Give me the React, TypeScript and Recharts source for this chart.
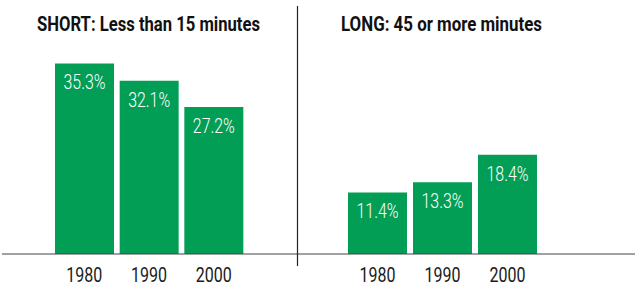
import { BarChart, Bar, XAxis, YAxis, LabelList } from 'recharts'

const years = ['1980', '1990', '2000']
const shortCommute = [35.3, 32.1, 27.2]
const longCommute = [11.4, 13.3, 18.4]
const titles = ['SHORT: Less than 15 minutes', 'LONG: 45 or more minutes']

const GREEN = '#029e56'
const FONT = "Roboto, 'Liberation Sans', sans-serif"

// condensed look: no narrow font installed, so squeeze glyphs to the measured widths
function YearTick(props: any) {
  const { x, y, payload } = props
  return (
    <text
      x={x}
      y={y + 15}
      textAnchor="middle"
      textLength={36}
      lengthAdjust="spacingAndGlyphs"
      fontFamily={FONT}
      fontSize={21}
      fill="#1a1a1a"
    >
      {payload.value}
    </text>
  )
}

function ValueLabel(props: any) {
  const { x, y, width, value } = props
  return (
    <text
      x={x + width / 2}
      y={y + 26}
      textAnchor="middle"
      textLength={42}
      lengthAdjust="spacingAndGlyphs"
      fontFamily={FONT}
      fontWeight={300}
      fontSize={21}
      fill="#fff"
    >
      {`${Number(value).toFixed(1)}%`}
    </text>
  )
}

interface PanelProps {
  values: number[]
  left: number
  width: number
  marginLeft: number
  padding: { left: number; right: number }
}

function Panel({ values, left, width, marginLeft, padding }: PanelProps) {
  const data = years.map((year, i) => ({ year, value: values[i] }))
  return (
    <div style={{ position: 'absolute', left, top: 0, width, height: 288 }}>
      <BarChart
        width={width}
        height={288}
        data={data}
        margin={{ top: 38, right: 0, left: marginLeft, bottom: 4 }}
      >
        <XAxis
          dataKey="year"
          padding={padding}
          axisLine={{ stroke: '#444', strokeWidth: 1.2 }}
          tickLine={false}
          tickSize={6}
          tickMargin={7}
          tick={<YearTick />}
        />
        <YAxis hide domain={[0, 40]} />
        <Bar dataKey="value" fill={GREEN} barSize={59} isAnimationActive={false}>
          <LabelList dataKey="value" content={<ValueLabel />} />
        </Bar>
      </BarChart>
    </div>
  )
}

export default function App() {
  return (
    <div style={{ position: 'absolute', left: 0, top: 0, width: 635, height: 288, background: '#fff' }}>
      <Panel values={shortCommute} left={0} width={298} marginLeft={2} padding={{ left: 50, right: 52 }} />
      <Panel values={longCommute} left={298} width={337} marginLeft={0} padding={{ left: 47, right: 95 }} />
      <svg
        width={635}
        height={288}
        style={{ position: 'absolute', left: 0, top: 0, pointerEvents: 'none' }}
      >
        <text x={37} y={31} textLength={223} lengthAdjust="spacingAndGlyphs" fontFamily={FONT} fontWeight={700} fontSize={21} fill="#111">
          {titles[0]}
        </text>
        <text x={341} y={31} textLength={201} lengthAdjust="spacingAndGlyphs" fontFamily={FONT} fontWeight={700} fontSize={21} fill="#111">
          {titles[1]}
        </text>
        <line x1={297.5} y1={6} x2={297.5} y2={266} stroke="#222" strokeWidth={1.2} />
      </svg>
    </div>
  )
}
